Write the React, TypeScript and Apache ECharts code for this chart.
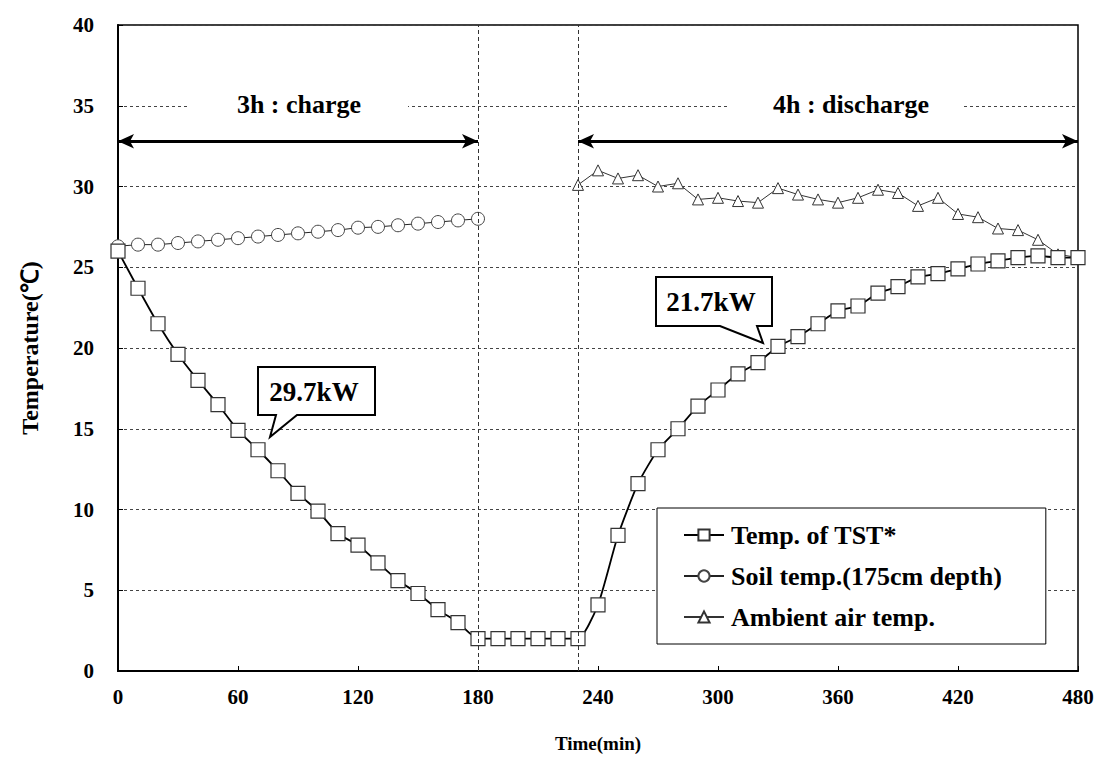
import React, { useEffect, useRef } from "react";
import * as echarts from "echarts";

const xTicks = [0, 60, 120, 180, 240, 300, 360, 420, 480];

const tstTime = [0, 10, 20, 30, 40, 50, 60, 70, 80, 90, 100, 110, 120, 130, 140, 150, 160, 170, 180, 190, 200, 210, 220, 230, 240, 250, 260, 270, 280, 290, 300, 310, 320, 330, 340, 350, 360, 370, 380, 390, 400, 410, 420, 430, 440, 450, 460, 470, 480];
const tstTemp = [26.0, 23.7, 21.5, 19.6, 18.0, 16.5, 14.9, 13.7, 12.4, 11.0, 9.9, 8.5, 7.8, 6.7, 5.6, 4.8, 3.8, 3.0, 2.0, 2.0, 2.0, 2.0, 2.0, 2.0, 4.1, 8.4, 11.6, 13.7, 15.0, 16.4, 17.4, 18.4, 19.1, 20.1, 20.7, 21.5, 22.3, 22.6, 23.4, 23.8, 24.4, 24.6, 24.9, 25.2, 25.4, 25.6, 25.7, 25.6, 25.6];

const soilTime = [0, 10, 20, 30, 40, 50, 60, 70, 80, 90, 100, 110, 120, 130, 140, 150, 160, 170, 180];
const soilTemp = [26.3, 26.4, 26.4, 26.5, 26.6, 26.7, 26.8, 26.9, 27.0, 27.1, 27.2, 27.3, 27.45, 27.5, 27.6, 27.7, 27.8, 27.9, 28.0];

const airTime = [230, 240, 250, 260, 270, 280, 290, 300, 310, 320, 330, 340, 350, 360, 370, 380, 390, 400, 410, 420, 430, 440, 450, 460, 470, 480];
const airTemp = [30.1, 31.0, 30.5, 30.7, 30.0, 30.2, 29.2, 29.3, 29.1, 29.0, 29.9, 29.5, 29.2, 29.0, 29.3, 29.8, 29.6, 28.8, 29.3, 28.3, 28.1, 27.4, 27.3, 26.7, 25.8, 25.6];

const seriesNames = ["Temp. of TST*", "Soil temp.(175cm depth)", "Ambient air temp."];
const phaseBoundaries = [180, 230];
const chargeSpan = [0, 180];
const dischargeSpan = [230, 480];
const arrowLevel = 32.8;

const FONT = "'Liberation Serif', 'Times New Roman', serif";

const zip = (xs: number[], ys: number[]) => xs.map((x, i) => [x, ys[i]]);

export default function App() {
  const ref = useRef<HTMLDivElement>(null);
  useEffect(() => {
    const chart = echarts.init(ref.current!, null, { renderer: "svg" });
    const bold = { fontFamily: FONT, fontWeight: "bold" as const, color: "#000" };
    chart.setOption({
      animation: false,
      backgroundColor: "#fff",
      grid: { left: 118, right: 19, top: 25, bottom: 96, show: true, borderColor: "#000", borderWidth: 1.5 },
      xAxis: {
        type: "value",
        min: xTicks[0],
        max: xTicks[xTicks.length - 1],
        interval: 60,
        axisLine: { show: true, onZero: false, lineStyle: { color: "#000", width: 2 } },
        axisTick: { show: true, inside: true, length: 5, lineStyle: { color: "#000" } },
        axisLabel: { ...bold, fontSize: 21, margin: 15 },
        splitLine: { show: false },
        name: "Time(min)",
        nameLocation: "middle",
        nameGap: 63,
        nameTextStyle: { ...bold, fontSize: 19 },
      },
      yAxis: {
        type: "value",
        min: 0,
        max: 40,
        interval: 5,
        axisLine: { show: true, onZero: false, lineStyle: { color: "#000", width: 2 } },
        axisTick: { show: true, inside: true, length: 5, lineStyle: { color: "#000" } },
        axisLabel: { ...bold, fontSize: 21, margin: 24 },
        splitLine: { show: true, lineStyle: { color: "#444", width: 1, type: [3, 3] } },
        name: "Temperature(\u2103)",
        nameLocation: "middle",
        nameGap: 76,
        nameRotate: 90,
        nameTextStyle: { ...bold, fontSize: 24 },
      },
      legend: {
        data: seriesNames,
        orient: "vertical",
        left: 657,
        top: 508,
        backgroundColor: "#fff",
        borderColor: "#000",
        borderWidth: 1,
        padding: [14, 44, 14, 26],
        itemWidth: 40,
        itemHeight: 14,
        itemGap: 15,
        textStyle: { ...bold, fontSize: 26, lineHeight: 26, padding: [0, 0, 0, 2] },
      },
      series: [
        {
          name: seriesNames[0],
          type: "line",
          data: zip(tstTime, tstTemp),
          symbol: "rect",
          symbolSize: 14,
          smooth: 0.2,
          itemStyle: { color: "#fff", borderColor: "#333", borderWidth: 1.2 },
          lineStyle: { color: "#000", width: 1.8 },
          z: 4,
        },
        {
          name: seriesNames[1],
          type: "line",
          data: zip(soilTime, soilTemp),
          symbol: "circle",
          symbolSize: 13,
          itemStyle: { color: "#fff", borderColor: "#444", borderWidth: 1 },
          lineStyle: { color: "#222", width: 1 },
          z: 3,
        },
        {
          name: seriesNames[2],
          type: "line",
          data: zip(airTime, airTemp),
          symbol: "triangle",
          symbolSize: 11,
          itemStyle: { color: "#fff", borderColor: "#333", borderWidth: 1 },
          lineStyle: { color: "#333", width: 1 },
          z: 3,
        },
        {
          name: "phases",
          type: "line",
          data: [],
          silent: true,
          markLine: {
            silent: true,
            symbol: "none",
            label: { show: false },
            lineStyle: { color: "#333", width: 1, type: [4, 3] },
            data: phaseBoundaries.map((v) => ({ xAxis: v })),
          },
        },
        {
          name: "arrows",
          type: "line",
          data: [],
          silent: true,
          markLine: {
            silent: true,
            symbol: ["arrow", "arrow"],
            symbolSize: [11, 16],
            label: { show: false },
            lineStyle: { color: "#000", width: 3, type: "solid" },
            data: [
              [{ coord: [chargeSpan[0], arrowLevel] }, { coord: [chargeSpan[1], arrowLevel] }],
              [{ coord: [dischargeSpan[0], arrowLevel] }, { coord: [dischargeSpan[1], arrowLevel] }],
            ],
          },
        },
      ],
      graphic: [
        { type: "rect", shape: { x: 190, y: 96, width: 218, height: 18 }, style: { fill: "#fff" }, z: 10 },
        { type: "rect", shape: { x: 730, y: 96, width: 232, height: 18 }, style: { fill: "#fff" }, z: 10 },
        {
          type: "text", x: 299, y: 104, z: 11,
          style: { text: "3h : charge", font: `bold 26px ${FONT}`, fill: "#000", textAlign: "center", textVerticalAlign: "middle" },
        },
        {
          type: "text", x: 851, y: 104, z: 11,
          style: { text: "4h : discharge", font: `bold 26px ${FONT}`, fill: "#000", textAlign: "center", textVerticalAlign: "middle" },
        },
        {
          type: "polygon", z: 10,
          shape: { points: [[258, 367], [375, 367], [375, 415], [297, 415], [270, 437], [276, 415], [258, 415]] },
          style: { fill: "#fff", stroke: "#000", lineWidth: 2 },
        },
        {
          type: "text", x: 314, y: 392, z: 11,
          style: { text: "29.7kW", font: `bold 27px ${FONT}`, fill: "#000", textAlign: "center", textVerticalAlign: "middle" },
        },
        {
          type: "polygon", z: 10,
          shape: { points: [[656, 277], [772, 277], [772, 326], [757, 326], [763, 343], [720, 326], [656, 326]] },
          style: { fill: "#fff", stroke: "#000", lineWidth: 2 },
        },
        {
          type: "text", x: 711, y: 302, z: 11,
          style: { text: "21.7kW", font: `bold 27px ${FONT}`, fill: "#000", textAlign: "center", textVerticalAlign: "middle" },
        },
      ],
    });
    return () => chart.dispose();
  }, []);
  return (
    <div
      ref={ref}
      style={{ position: "absolute", left: 0, top: 0, width: 1097, height: 767, background: "#fff" }}
    />
  );
}
